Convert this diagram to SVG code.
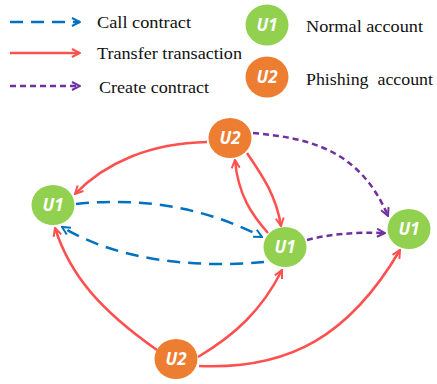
<svg xmlns="http://www.w3.org/2000/svg" width="437" height="384" viewBox="0 0 437 384">
<defs>
<style>
.lbl{font-size:17px;fill:#111}
.nt{font-family:"Open Sans","Liberation Sans",sans-serif;font-size:17px;font-weight:bold;font-style:italic;fill:#fff;text-anchor:middle}
.red{fill:none;stroke:#FF5050;stroke-width:2.5;marker-end:url(#ar)}
.blue{fill:none;stroke:#0070C0;stroke-width:2.5;stroke-dasharray:13 8;marker-end:url(#ab)}
.pur{fill:none;stroke:#7030A0;stroke-width:2.5;stroke-dasharray:6 4;marker-end:url(#ap)}
.g{fill:#92D050}
.o{fill:#ED7D31}
</style>
<marker id="ar" viewBox="0 0 10 10" refX="9" refY="5" markerWidth="10" markerHeight="10" markerUnits="userSpaceOnUse" orient="auto"><path d="M1,1 L9,5 L1,9" fill="none" stroke="#FF5050" stroke-width="2"/></marker>
<marker id="ab" viewBox="0 0 10 10" refX="9" refY="5" markerWidth="10" markerHeight="10" markerUnits="userSpaceOnUse" orient="auto"><path d="M1,1 L9,5 L1,9" fill="none" stroke="#0070C0" stroke-width="2"/></marker>
<marker id="ap" viewBox="0 0 10 10" refX="9" refY="5" markerWidth="10" markerHeight="10" markerUnits="userSpaceOnUse" orient="auto"><path d="M1,1 L9,5 L1,9" fill="none" stroke="#7030A0" stroke-width="2"/></marker>
</defs>
<g id="legend" font-family="'Liberation Serif', 'Times New Roman', 'DejaVu Serif', serif">
<path class="blue" d="M10,22 L80,22"/>
<text class="lbl" x="97" y="28" textLength="94" lengthAdjust="spacingAndGlyphs">Call contract</text>
<path class="red" d="M10,53 L80,53"/>
<text class="lbl" x="97" y="59" textLength="145" lengthAdjust="spacingAndGlyphs">Transfer transaction</text>
<path class="pur" d="M10,86 L80,86"/>
<text class="lbl" x="99" y="93" textLength="110" lengthAdjust="spacingAndGlyphs">Create contract</text>
<ellipse class="g" cx="267" cy="25" rx="21.5" ry="20.5"/>
<text class="nt" x="267" y="31">U1</text>
<text class="lbl" x="306" y="32" textLength="117" lengthAdjust="spacingAndGlyphs">Normal account</text>
<ellipse class="o" cx="267" cy="77" rx="21.5" ry="20.5"/>
<text class="nt" x="267" y="83">U2</text>
<text class="lbl" x="306" y="85" xml:space="preserve" textLength="127" lengthAdjust="spacingAndGlyphs">Phishing  account</text>
</g>
<g id="connectors">
<path class="red" d="M207,142 C150,143 105,163 75,194"/>
<path class="red" d="M247,153 C262,175 276,195 281,226"/>
<path class="red" d="M268,233 C252,215 238,195 235,160"/>
<path class="pur" d="M253,133 C310,138 360,150 388,216"/>
<path class="pur" d="M307,240 C330,234 355,232 385,233"/>
<path class="blue" d="M76,204 C140,197 205,207 262,237"/>
<path class="blue" d="M264,262 C200,268 120,262 62,227"/>
<path class="red" d="M157,350 C100,310 70,275 55,228"/>
<path class="red" d="M198,357 C235,335 262,310 282,270"/>
<path class="red" d="M199,366 C290,370 350,335 400,250"/>
</g>
<g id="n_left_u1"><ellipse class="g" cx="53" cy="205" rx="21.5" ry="20"/><text class="nt" x="53" y="211">U1</text></g>
<g id="n_top_u2"><ellipse class="o" cx="230" cy="138" rx="21.5" ry="20"/><text class="nt" x="230" y="144">U2</text></g>
<g id="n_mid_u1"><ellipse class="g" cx="285" cy="247" rx="21.5" ry="20"/><text class="nt" x="285" y="253">U1</text></g>
<g id="n_right_u1"><ellipse class="g" cx="409" cy="229" rx="21.5" ry="20"/><text class="nt" x="409" y="235">U1</text></g>
<g id="n_bot_u2"><ellipse class="o" cx="176" cy="359" rx="21.5" ry="20"/><text class="nt" x="176" y="365">U2</text></g>
</svg>
